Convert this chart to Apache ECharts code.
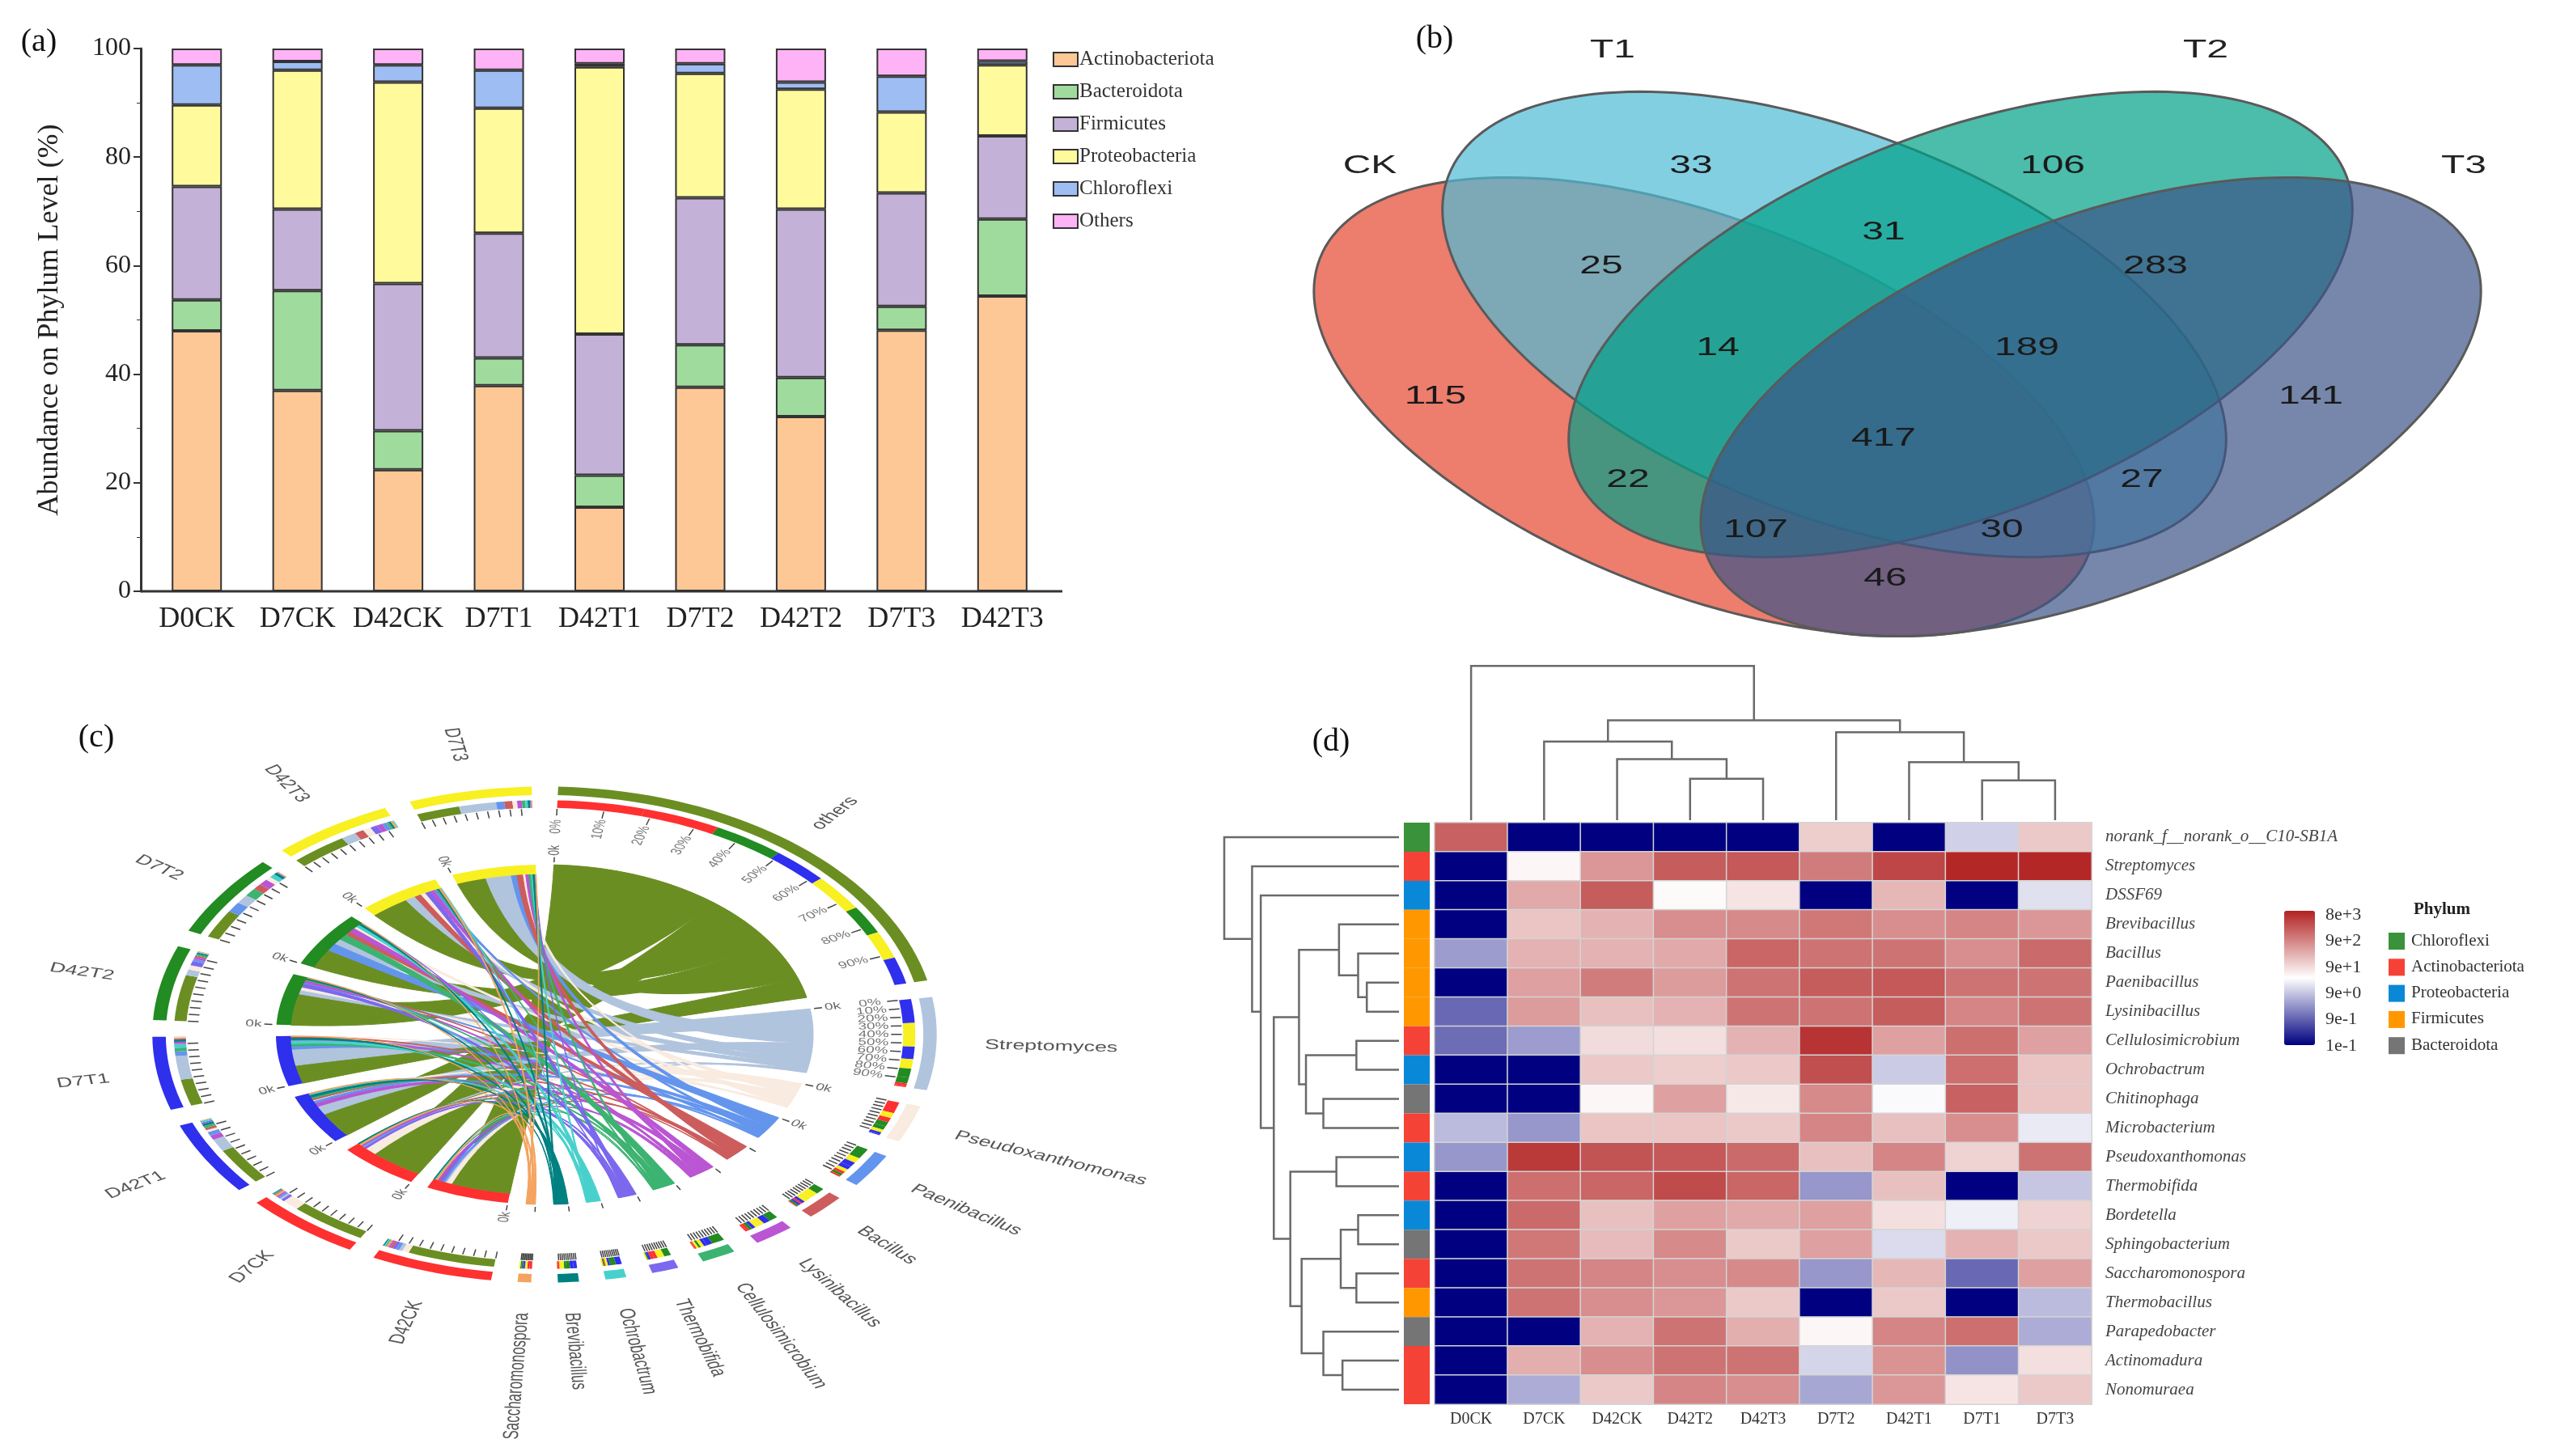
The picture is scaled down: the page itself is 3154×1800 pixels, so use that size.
<!DOCTYPE html>
<html><head><meta charset="utf-8">
<style>html,body{margin:0;padding:0;background:#fff}#c{width:3154px;height:1800px}</style>
<script src="https://cdn.jsdelivr.net/npm/echarts@6/dist/echarts.min.js"></script>
</head><body><div id="c"></div>
<script>
// ---------- (a) stacked bars ----------
const barCategories = ['D0CK','D7CK','D42CK','D7T1','D42T1','D7T2','D42T2','D7T3','D42T3'];
const actinobacteriota = [48.0,37.0,22.4,37.9,15.5,37.6,32.2,48.1,54.4];
const bacteroidota     = [5.7,18.4,7.2,5.1,5.9,7.8,7.2,4.4,14.2];
const firmicutes       = [20.9,15.0,27.1,23.0,26.0,27.1,31.0,20.9,15.3];
const proteobacteria   = [15.0,25.6,37.1,23.0,49.2,22.9,22.1,14.9,13.1];
const chloroflexi      = [7.4,1.6,3.2,7.0,0.6,1.8,1.3,6.6,0.7];
const othersPhyla      = [3.0,2.4,3.0,4.0,2.8,2.8,6.2,5.1,2.3];

// ---------- (b) venn ----------
const vennSets = ['CK','T1','T2','T3'];
const vennCounts = [33,106,25,31,283,14,189,115,141,417,22,27,107,30,46];

// ---------- (c) chord ----------
const chordGenera = ['others','Streptomyces','Pseudoxanthomonas','Paenibacillus','Bacillus','Lysinibacillus','Cellulosimicrobium','Thermobifida','Ochrobactrum','Brevibacillus','Saccharomonospora'];
const chordSamples = ['D42CK','D7CK','D42T1','D7T1','D42T2','D7T2','D42T3','D7T3'];
const flowOthers   = [75,67,50,36,62,38,49,37];
const flowStrepto  = [3,2,17,32,8,12,13,32];
const flowPseudo   = [6,15,3,1,6,5,7,4];
const flowPaeni    = [3,2,5,6,3,14,4,7];
const flowBacillus = [2,1,3,2,2,8,8,7];
const flowLysini   = [2,2,6,3,3,8,5,4];
const flowCellulo  = [1,1,3,5,2,11,2,3];
const flowThermob  = [3,3,2,0,6,1,6,1];
const flowOchro    = [1,0,2,5,1,5,1,2];
const flowBrevi    = [1,1,3,3,2,3,2,2];
const flowSaccha   = [2,2,1,1,1,1,2,1];
const chordFlows = [flowOthers,flowStrepto,flowPseudo,flowPaeni,flowBacillus,flowLysini,flowCellulo,flowThermob,flowOchro,flowBrevi,flowSaccha];
const generaColors = ['#6b8e23','#b0c4de','#f9ebdf','#6495ed','#cd5c5c','#ba55d3','#3cb371','#7b68ee','#48d1cc','#008080','#f4a460'];
const sampleColors = ['#ff3030','#ff3030','#2f2fee','#2f2fee','#228b22','#228b22','#f8f020','#f8f020'];

// ---------- (d) heatmap ----------
const heatColumns = ['D0CK','D7CK','D42CK','D42T2','D42T3','D7T2','D42T1','D7T1','D7T3'];
const heatRows = ['norank_f__norank_o__C10-SB1A','Streptomyces','DSSF69','Brevibacillus','Bacillus','Paenibacillus','Lysinibacillus','Cellulosimicrobium','Ochrobactrum','Chitinophaga','Microbacterium','Pseudoxanthomonas','Thermobifida','Bordetella','Sphingobacterium','Saccharomonospora','Thermobacillus','Parapedobacter','Actinomadura','Nonomuraea'];
const heatLog10 = [
 [3.2,-1,-1,-1,-1,2.0,-1,1.0,2.05],
 [-1,1.55,2.6,3.25,3.3,2.9,3.5,3.85,3.85],
 [-1,2.4,3.25,1.5,1.75,-1,2.25,-1,1.15],
 [-1,2.1,2.3,2.7,2.75,2.95,2.7,2.8,2.6],
 [0.5,2.3,2.3,2.4,3.15,3.0,3.0,2.7,3.1],
 [-1,2.5,2.9,2.55,3.0,3.25,3.3,3.0,3.0],
 [0.0,2.55,2.15,2.3,3.0,3.0,3.25,2.8,3.0],
 [0.05,0.5,1.85,1.8,2.3,3.7,2.5,3.05,2.5],
 [-1,-1,2.05,2.0,2.05,3.4,0.95,3.05,2.1],
 [-1,-1,1.55,2.5,1.7,2.75,1.4,3.2,2.1],
 [0.8,0.45,2.1,2.1,2.05,2.8,2.15,2.7,1.25],
 [0.45,3.65,3.35,3.3,3.1,2.15,2.8,1.95,3.0],
 [-1,3.05,3.15,3.45,3.15,0.45,2.15,-1,0.9],
 [-1,3.1,2.15,2.5,2.4,2.5,1.8,1.3,1.95],
 [-1,2.95,2.2,2.75,2.05,2.5,1.1,2.3,2.05],
 [-1,3.0,2.8,2.7,2.75,0.45,2.25,0.0,2.5],
 [-1,3.0,2.7,2.6,2.05,-1,2.05,-1,0.8],
 [-1,-1,2.3,3.0,2.35,1.55,2.8,3.05,0.65],
 [-1,2.35,2.7,3.0,3.0,1.05,2.65,0.4,1.8],
 [-1,0.65,2.05,2.8,2.7,0.6,2.6,1.75,2.05]
];
const phylumNames = ['Chloroflexi','Actinobacteriota','Proteobacteria','Firmicutes','Bacteroidota'];
const phylumColors = ['#3a923a','#f44336','#0a88d8','#ff9800','#757575'];
const rowPhylum = [0,1,2,3,3,3,3,1,2,4,1,2,1,2,4,1,3,4,1,1];
const colorbarLabels = ['1e-1','9e-1','9e+0','9e+1','9e+2','8e+3'];
// merges: [nodeA, nodeB, height]; a number refers to an earlier merge
const colTree = [['D42T2','D42T3',80],[0,'D42CK',118],[1,'D7CK',152],['D7T1','D7T3',77],[3,'D42T1',112],[4,'D7T2',170],[2,5,193],[6,'D0CK',298]];
const rowTree = [['Paenibacillus','Lysinibacillus',37],[0,'Bacillus',47],[1,'Brevibacillus',69],
 ['Cellulosimicrobium','Ochrobactrum',49],['Chitinophaga','Microbacterium',87],[3,4,107],[2,5,115],
 ['Pseudoxanthomonas','Thermobifida',72],['Bordetella','Sphingobacterium',47],['Saccharomonospora','Thermobacillus',49],[8,9,67],
 ['Actinomadura','Nonomuraea',65],['Parapedobacter',11,87],[10,12,112],[7,13,125],[6,14,144],['DSSF69',15,159],['Streptomyces',16,169],['norank_f__norank_o__C10-SB1A',17,201]];

// ---------- layout tables (positions only, no data) ----------
const vennEllipses = [
 {cx:2106,cy:503,a:509,b:232,t:21.1,fill:'rgba(230,75,53,0.72)'},
 {cx:2267,cy:401,a:511,b:237,t:21.1,fill:'rgba(77,187,213,0.70)'},
 {cx:2423,cy:401,a:511,b:237,t:-21.1,fill:'rgba(0,160,135,0.70)'},
 {cx:2584,cy:503,a:509,b:232,t:-21.1,fill:'rgba(60,84,136,0.70)'}
];
const vennCountAnchors = [[2090,205],[2537,205],[1979,329],[2328,287],[2664,329],[2123,430],[2505,430],[1774,490],[2856,490],[2328,542],[2012,593],[2647,593],[2170,655],[2474,655],[2330,715]];
const vennSetAnchors = [[1693,205],[1993,62],[2726,62],[3045,205]];
const panelTags = [['(a)',48,52],['(b)',1773,48],['(c)',119,912],['(d)',1645,917]];

// ---------- helpers ----------
const DEG = Math.PI/180;
const polar = (deg,r)=>[r*Math.sin(deg*DEG), r*Math.cos(deg*DEG)];
function chordLayout(){
  const GAP=3.9, sumAll=chordFlows.flat().reduce((a,b)=>a+b,0);
  const k=(360-GAP*(chordGenera.length+chordSamples.length))/(2*sumAll);
  let ang=2; const sectors=[], ribbons={};
  const key=(g,s)=>g+'_'+s;
  chordGenera.forEach((name,g)=>{
    const items=chordSamples.map((_,s)=>({s,v:chordFlows[g][s]})).filter(d=>d.v>0).sort((a,b)=>b.v-a.v);
    const start=ang, segs=[];
    items.forEach(d=>{const a1=ang,a2=ang+d.v*k;ang=a2;segs.push({a1,a2,color:sampleColors[d.s]});ribbons[key(g,d.s)]={g,s:d.s,ga1:a1,ga2:a2};});
    sectors.push({name,start,end:ang,color:generaColors[g],segs,isGenus:true,idx:g});
    ang+=GAP;
  });
  chordSamples.forEach((name,s)=>{
    const items=chordGenera.map((_,g)=>({g,v:chordFlows[g][s]})).filter(d=>d.v>0).sort((a,b)=>b.v-a.v);
    const start=ang, segs=[];
    items.forEach(d=>{const a1=ang,a2=ang+d.v*k;ang=a2;segs.push({a1,a2,color:generaColors[d.g]});Object.assign(ribbons[key(d.g,s)],{sa1:a1,sa2:a2});});
    sectors.push({name,start,end:ang,color:sampleColors[s],segs,isGenus:false,idx:s});
    ang+=GAP;
  });
  return {sectors,ribbons:Object.values(ribbons).sort((a,b)=>a.g-b.g)};
}
const chord=chordLayout();
function annular(a1,a2,r1,r2,api){
  const n=Math.max(2,Math.ceil((a2-a1)/2)+1), pts=[];
  for(let i=0;i<=n;i++) pts.push(api.coord(polar(a1+(a2-a1)*i/n,r2)));
  for(let i=n;i>=0;i--) pts.push(api.coord(polar(a1+(a2-a1)*i/n,r1)));
  return pts;
}
function stretchedText(api,deg,r,text,opt,rotDeg,align){
  const p=api.coord(polar(deg,r)), o=api.coord([0,0]), ux=api.coord([1,0])[0]-o[0], uy=o[1]-api.coord([0,1])[1];
  return {type:'group',x:p[0],y:p[1],scaleX:ux/uy,scaleY:1,children:[{type:'text',rotation:rotDeg*DEG,style:Object.assign({text,textAlign:align,textVerticalAlign:'middle'},opt)}]};
}
function renderRibbon(params,api){
  const d=chord.ribbons[params.dataIndex], pts=[];
  const R1=1.0,R2=0.945,N=24;
  const arc=(a,b,r)=>{for(let i=0;i<=4;i++)pts.push(polar(a+(b-a)*i/4,r));};
  const bez=(p,q)=>{for(let i=1;i<N;i++){const t=i/N,c=(1-t)*(1-t),e=t*t;pts.push([c*p[0]+e*q[0],c*p[1]+e*q[1]]);}};
  arc(d.ga1,d.ga2,R1);
  bez(polar(d.ga2,R1),polar(d.sa1,R2));
  arc(d.sa1,d.sa2,R2);
  bez(polar(d.sa2,R2),polar(d.ga1,R1));
  return {type:'polygon',shape:{points:pts.map(p=>api.coord(p))},style:{fill:generaColors[d.g],stroke:generaColors[d.g],lineWidth:1}};
}
function renderSector(params,api){
  const s=chord.sectors[params.dataIndex], ch=[];
  const span=s.end-s.start, mid=(s.start+s.end)/2;
  ch.push({type:'polygon',shape:{points:annular(s.start,s.end,s.isGenus?0.97:0.945,1.0,api)},style:{fill:s.color}});
  ch.push({type:'polygon',shape:{points:annular(s.start,s.end,1.41,1.46,api)},style:{fill:s.color,stroke:s.isGenus&&s.idx==2?'#f0e0d2':null,lineWidth:0.5}});
  s.segs.forEach(g=>ch.push({type:'polygon',shape:{points:annular(g.a1,g.a2,1.335,1.38,api)},style:{fill:g.color}}));
  for(let i=0;i<10;i++){
    const a=s.start+span*i/10, p1=api.coord(polar(a,1.33)), p2=api.coord(polar(a,1.29));
    ch.push({type:'line',shape:{x1:p1[0],y1:p1[1],x2:p2[0],y2:p2[1]},style:{stroke:'#444',lineWidth:1.5}});
    if(span>15 && s.isGenus){
      const rad=(a<180)?90-a:270-a;
      ch.push(stretchedText(api,a,1.225,(i*10)+'%',{fill:'#777',fontFamily:'Liberation Sans',fontSize:12},rad,'center'));
    }
  }
  const t1=api.coord(polar(s.start,1.015)), t2=api.coord(polar(s.start,1.045));
  ch.push({type:'line',shape:{x1:t1[0],y1:t1[1],x2:t2[0],y2:t2[1]},style:{stroke:'#444',lineWidth:1.5}});
  if(span>7.5){
    const rad=(s.start<180)?90-s.start:270-s.start;
    ch.push(stretchedText(api,s.start,1.085,'0k',{fill:'#666',fontFamily:'Liberation Sans',fontSize:12},rad,'center'));
  }
  const rot=(mid<180)?90-mid:270-mid;
  ch.push(stretchedText(api,mid,s.name==='others'?1.58:1.64,s.name,{fill:'#555',fontFamily:'Liberation Sans',fontSize:17},rot,mid<180?'left':'right'));
  return {type:'group',children:ch};
}
function renderEllipse(params,api){
  const e=vennEllipses[params.dataIndex], pts=[], ct=Math.cos(e.t*DEG), st=Math.sin(e.t*DEG);
  for(let i=0;i<180;i++){
    const u=i*2*DEG, x=e.a*Math.cos(u), y=e.b*Math.sin(u);
    pts.push(api.coord([e.cx+x*ct-y*st, e.cy+x*st+y*ct]));
  }
  return {type:'polygon',shape:{points:pts},style:{fill:e.fill,stroke:'#5a5a5a',lineWidth:3}};
}
function renderVennText(params,api){
  const p=api.coord([api.value(0),api.value(1)]);
  return {type:'text',x:p[0],y:p[1],scaleX:1.5,style:{text:String(api.value(2)),textAlign:'center',textVerticalAlign:'middle',fontFamily:'Liberation Sans',fontSize:32,fill:'#1a1a1a'}};
}
function dendroSegments(tree,leaves){
  const pos={}, hgt={};
  leaves.forEach((n,i)=>{pos['L'+n]=i+0.5;hgt['L'+n]=0;});
  const ref=n=>typeof n==='number'?'M'+n:'L'+n, out=[];
  tree.forEach((m,i)=>{
    const a=ref(m[0]), b=ref(m[1]);
    out.push([pos[a],hgt[a],pos[b],hgt[b],m[2]]);
    pos['M'+i]=(pos[a]+pos[b])/2; hgt['M'+i]=m[2];
  });
  return out;
}
const dendroStyle={fill:'none',stroke:'#6a6a6a',lineWidth:2.5};
const renderTop=(params,api)=>({type:'polyline',shape:{points:[[api.value(0),api.value(1)],[api.value(0),api.value(4)],[api.value(2),api.value(4)],[api.value(2),api.value(3)]].map(p=>api.coord(p))},style:dendroStyle});
const renderLeft=(params,api)=>({type:'polyline',shape:{points:[[api.value(1),api.value(0)],[api.value(4),api.value(0)],[api.value(4),api.value(2)],[api.value(3),api.value(2)]].map(p=>api.coord(p))},style:dendroStyle});
function renderPhylumCell(params,api){
  const p=api.coord([0,api.value(1)]), sz=api.size([1,1]);
  return {type:'rect',shape:{x:p[0]-sz[0]/2,y:p[1]-sz[1]/2,width:sz[0],height:sz[1]},style:{fill:phylumColors[api.value(2)]}};
}

// ---------- option ----------
const hidden={show:false};
const serif='Liberation Serif', axisCol='#333';
const barColors=['#fdc896','#9fdb9d','#c3b1d7','#fffb9d','#9dbdf3','#fdb3f5'];
const barNames=['Actinobacteriota','Bacteroidota','Firmicutes','Proteobacteria','Chloroflexi','Others'];
const barData=[actinobacteriota,bacteroidota,firmicutes,proteobacteria,chloroflexi,othersPhyla];
const heatData=[]; heatLog10.forEach((row,r)=>row.forEach((v,c)=>heatData.push([c,r,v])));

const graphicEls=[];
panelTags.forEach(t=>graphicEls.push({type:'text',x:t[1],y:t[2],style:{text:t[0],font:'40px "Liberation Serif"',fill:'#111',textAlign:'center',textVerticalAlign:'middle'}}));
vennSets.forEach((n,i)=>graphicEls.push({type:'text',x:vennSetAnchors[i][0],y:vennSetAnchors[i][1],scaleX:1.5,style:{text:n,fontFamily:'Liberation Sans',fontSize:32,fill:'#222',textAlign:'center',textVerticalAlign:'middle'}}));
graphicEls.push({type:'text',x:3018,y:1125,style:{text:'Phylum',font:'bold 21px "Liberation Serif"',fill:'#222',textAlign:'center',textVerticalAlign:'middle'}});
phylumNames.forEach((n,i)=>{
  const y=1163+i*32.3;
  graphicEls.push({type:'rect',shape:{x:2952,y:y-10,width:20,height:21},style:{fill:phylumColors[i]}});
  graphicEls.push({type:'text',x:2980,y:y,style:{text:n,font:'21px "Liberation Serif"',fill:'#333',textVerticalAlign:'middle'}});
});
graphicEls.push({type:'line',shape:{x1:174,y1:731,x2:1313,y2:731},style:{stroke:axisCol,lineWidth:3}});

const option={
  animation:false, backgroundColor:'#fff',
  graphic:{elements:graphicEls},
  legend:{left:1296,top:56,orient:'vertical',itemWidth:30,itemHeight:17,itemGap:15,selectedMode:false,icon:'rect',
    textStyle:{fontFamily:serif,fontSize:25,color:'#333',padding:[0,0,0,-3]},data:barNames},
  grid:[
    {left:181,top:60,width:1120,height:671},
    {left:1577,top:0,width:1577,height:800},
    {left:9,top:859,width:1328,height:840},
    {left:1773,top:1017,width:812,height:719},
    {left:1735,top:1017,width:32,height:719},
    {left:1773,top:822,width:812,height:192},
    {left:1498,top:1017,width:231,height:719},
    {left:2872,top:1131,width:1,height:162}
  ],
  xAxis:[
    {gridIndex:0,type:'category',data:barCategories,axisLine:hidden,axisTick:{alignWithLabel:true,length:9,lineStyle:{color:axisCol,width:2}},axisLabel:{fontFamily:serif,fontSize:36,color:'#222',margin:17,interval:0}},
    {gridIndex:1,type:'value',min:1577,max:3154,show:false},
    {gridIndex:2,type:'value',min:-2,max:2,show:false},
    {gridIndex:3,type:'category',data:heatColumns,axisLine:hidden,axisTick:hidden,axisLabel:{fontFamily:serif,fontSize:20,color:'#333',margin:9,interval:0},splitArea:hidden},
    {gridIndex:4,type:'category',data:[''],show:false},
    {gridIndex:5,type:'value',min:0,max:9,show:false},
    {gridIndex:6,type:'value',min:0,max:215,inverse:true,show:false},
    {gridIndex:7,type:'value',show:false}
  ],
  yAxis:[
    {gridIndex:0,type:'value',min:0,max:100,interval:20,offset:7,name:'Abundance on Phylum Level (%)',nameLocation:'middle',nameGap:94,nameTextStyle:{fontFamily:serif,fontSize:36,color:'#222'},
      axisLine:{show:true,lineStyle:{color:axisCol,width:3}},axisTick:{show:true,length:9,lineStyle:{color:axisCol,width:2}},minorTick:{show:true,splitNumber:2,length:5,lineStyle:{color:axisCol}},splitLine:hidden,axisLabel:{fontFamily:serif,fontSize:32,color:'#222',margin:12}},
    {gridIndex:1,type:'value',min:0,max:800,inverse:true,show:false},
    {gridIndex:2,type:'value',min:-2,max:2,show:false},
    {gridIndex:3,type:'category',data:heatRows,inverse:true,position:'right',axisLine:hidden,axisTick:hidden,axisLabel:{fontFamily:serif,fontStyle:'italic',fontSize:21,color:'#444',margin:17,interval:0},splitArea:hidden},
    {gridIndex:4,type:'category',data:heatRows,inverse:true,show:false},
    {gridIndex:5,type:'value',min:0,max:300,show:false},
    {gridIndex:6,type:'value',min:0,max:20,inverse:true,show:false},
    {gridIndex:7,type:'category',data:colorbarLabels,boundaryGap:false,position:'right',axisLine:hidden,axisTick:hidden,axisLabel:{fontFamily:serif,fontSize:22,color:'#333',margin:1,interval:0}}
  ],
  visualMap:{type:'continuous',seriesIndex:barNames.length+5,min:-1,max:3.9,left:2823,top:1126,padding:0,itemWidth:38,itemHeight:166,calculable:false,inRange:{color:['#000080','#ffffff','#b22222']},textStyle:{fontSize:1,color:'transparent'}},
  series:[
    ...barNames.map((n,i)=>({name:n,type:'bar',stack:'a',xAxisIndex:0,yAxisIndex:0,data:barData[i],barWidth:62,itemStyle:{color:barColors[i],borderColor:'#333',borderWidth:2}})),
    {type:'custom',xAxisIndex:1,yAxisIndex:1,clip:false,data:vennEllipses.map((_,i)=>[i]),renderItem:renderEllipse,silent:true},
    {type:'custom',xAxisIndex:1,yAxisIndex:1,clip:false,data:vennCounts.map((v,i)=>[vennCountAnchors[i][0],vennCountAnchors[i][1],v]),renderItem:renderVennText,silent:true},
    {type:'custom',xAxisIndex:2,yAxisIndex:2,clip:false,data:chord.ribbons.map((_,i)=>[i]),renderItem:renderRibbon,silent:true},
    {type:'custom',xAxisIndex:2,yAxisIndex:2,clip:false,data:chord.sectors.map((_,i)=>[i]),renderItem:renderSector,silent:true},
    {type:'custom',xAxisIndex:4,yAxisIndex:4,data:rowPhylum.map((p,i)=>[0,i,p]),renderItem:renderPhylumCell,silent:true},
    {type:'heatmap',xAxisIndex:3,yAxisIndex:3,data:heatData,itemStyle:{borderColor:'#d4d4d4',borderWidth:1.5},silent:true},
    {type:'custom',xAxisIndex:5,yAxisIndex:5,clip:false,data:dendroSegments(colTree,heatColumns),renderItem:renderTop,silent:true},
    {type:'custom',xAxisIndex:6,yAxisIndex:6,clip:false,data:dendroSegments(rowTree,heatRows),renderItem:renderLeft,silent:true}
  ]
};
const chart=echarts.init(document.getElementById('c'),null,{renderer:'canvas',width:3154,height:1800});
chart.setOption(option);
</script></body></html>
